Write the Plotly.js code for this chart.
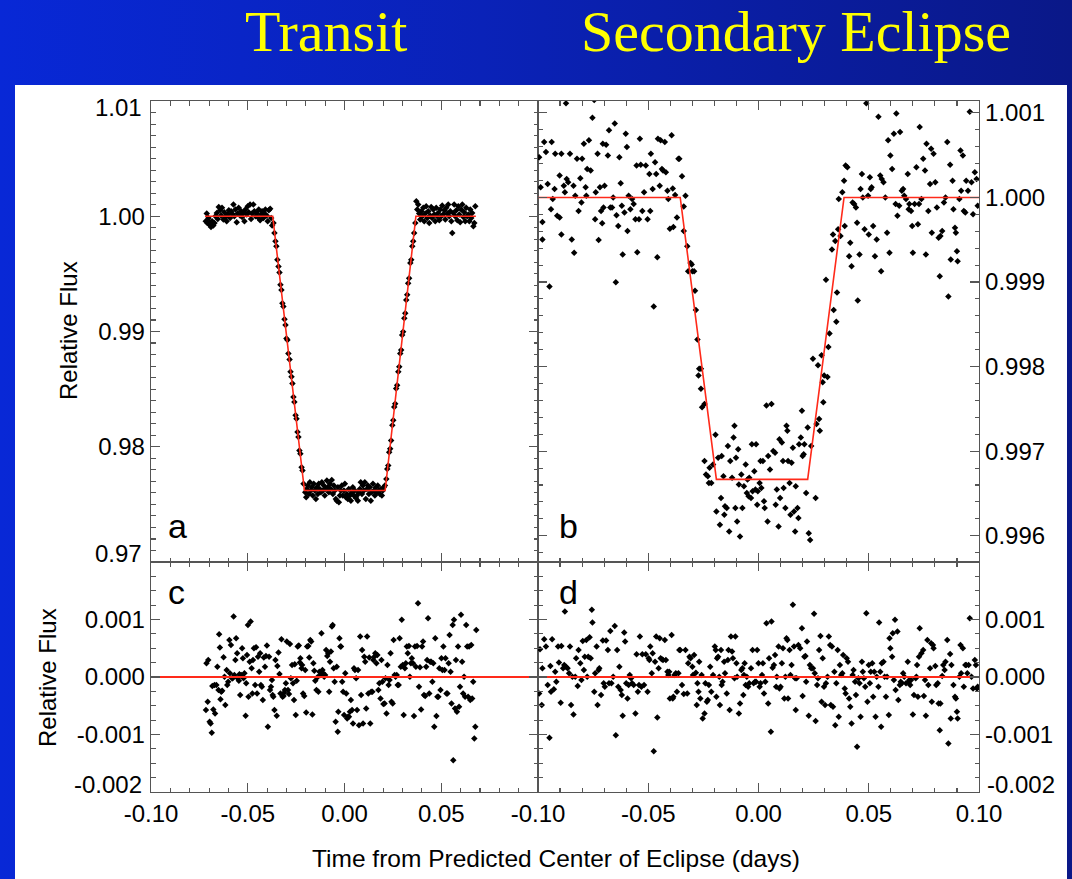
<!DOCTYPE html>
<html>
<head>
<meta charset="utf-8">
<script src="https://cdn.plot.ly/plotly-3.0.1.min.js"></script>
<style>
html,body{margin:0;padding:0;}
body{width:1072px;height:879px;overflow:hidden;background:linear-gradient(90deg,#0828d6 0%,#0a22b8 45%,#0a1888 100%);}
#chart{width:1072px;height:879px;}
</style>
</head>
<body>
<div id="chart"></div>
<script>
// ---------- Panel a: transit light curve ----------
const transitTime = [
-0.0717,-0.0712,-0.0709,-0.0703,-0.0698,-0.0695,-0.0690,-0.0684,-0.0678,-0.0672,
-0.0667,-0.0660,-0.0655,-0.0650,-0.0643,-0.0638,-0.0633,-0.0626,-0.0621,-0.0616,
-0.0609,-0.0603,-0.0598,-0.0591,-0.0586,-0.0581,-0.0574,-0.0569,-0.0564,-0.0557,
-0.0552,-0.0547,-0.0540,-0.0534,-0.0529,-0.0522,-0.0517,-0.0512,-0.0505,-0.0500,
-0.0495,-0.0488,-0.0483,-0.0478,-0.0471,-0.0466,-0.0460,-0.0453,-0.0448,-0.0443,
-0.0436,-0.0431,-0.0426,-0.0419,-0.0414,-0.0409,-0.0402,-0.0397,-0.0391,-0.0384,
-0.0379,-0.0374,
-0.0367,-0.0362,-0.0357,-0.0352,-0.0347,-0.0341,-0.0336,-0.0331,-0.0326,-0.0321,
-0.0316,-0.0310,-0.0305,-0.0300,-0.0295,-0.0290,-0.0284,-0.0279,-0.0274,-0.0269,
-0.0264,-0.0259,-0.0253,-0.0248,-0.0243,-0.0238,-0.0233,-0.0228,-0.0222,-0.0217,
-0.0212,
-0.0203,-0.0198,-0.0195,-0.0190,-0.0184,-0.0179,-0.0174,-0.0169,-0.0164,-0.0159,
-0.0153,-0.0148,-0.0143,-0.0138,-0.0133,-0.0128,-0.0122,-0.0117,-0.0112,-0.0107,
-0.0102,-0.0097,-0.0091,-0.0086,-0.0081,-0.0076,-0.0071,-0.0066,-0.0060,-0.0055,
-0.0050,-0.0045,-0.0040,-0.0034,-0.0029,-0.0024,-0.0019,-0.0014,-0.0009,-0.0003,
0.0002,0.0007,0.0012,0.0017,0.0022,0.0028,0.0033,0.0038,0.0043,0.0048,
0.0053,0.0059,0.0064,0.0069,0.0074,0.0079,0.0084,0.0090,0.0095,0.0100,
0.0105,0.0110,0.0116,0.0121,0.0126,0.0131,0.0136,0.0141,0.0147,0.0152,
0.0157,0.0162,0.0167,0.0172,0.0178,0.0183,0.0188,0.0193,0.0198,0.0203,
0.0209,
0.0216,0.0221,0.0226,0.0231,0.0236,0.0241,0.0247,0.0252,0.0257,0.0262,
0.0267,0.0272,0.0278,0.0283,0.0288,0.0293,0.0298,0.0303,0.0309,0.0314,
0.0319,0.0324,0.0329,0.0334,0.0340,0.0345,0.0350,0.0355,0.0360,0.0366,
0.0371,0.0376,0.0381,0.0386,0.0391,0.0397,0.0402,0.0407,0.0412,0.0417,
0.0422,0.0428,0.0433,0.0438,0.0443,0.0448,0.0453,0.0459,0.0464,0.0469,
0.0474,0.0479,0.0484,0.0490,0.0495,0.0500,0.0505,0.0510,0.0516,0.0521,
0.0526,0.0531,0.0536,0.0541,0.0547,0.0552,0.0557,0.0562,0.0567,0.0572,
0.0578,0.0583,0.0588,0.0593,0.0598,0.0603,0.0609,0.0614,0.0619,0.0624,
0.0629,0.0634,0.0640,0.0645,0.0650,0.0655,0.0660,0.0666,0.0671,0.0676
];
const transitFlux = [
0.99956,1.00023,0.99942,0.99985,0.99927,0.99948,0.99907,0.99956,0.99919,0.99942,
1.00000,1.00029,0.99977,1.00081,1.00052,1.00006,1.00073,0.99971,1.00035,0.99991,
0.99956,1.00015,1.00052,0.99985,1.00044,1.00023,1.00102,1.00000,1.00058,0.99948,
1.00023,1.00073,1.00006,1.00044,0.99994,1.00029,0.99956,1.00058,1.00015,1.00087,
1.00035,1.00102,0.99977,1.00023,1.00102,1.00044,1.00000,1.00029,0.99991,1.00058,
0.99965,1.00015,1.00044,0.99985,1.00023,1.00058,1.00006,0.99956,1.00052,1.00064,
0.99985,0.99919,
0.99942,0.99855,0.99782,0.99739,0.99623,0.99565,0.99512,0.99405,0.99361,0.99245,
0.99216,0.99106,0.99057,0.98940,0.98926,0.98810,0.98758,0.98650,0.98607,0.98549,
0.98432,0.98389,0.98273,0.98244,0.98128,0.98084,0.97968,0.97939,0.97823,0.97794,
0.97678,
0.97605,0.97561,0.97634,0.97663,0.97590,0.97692,0.97620,0.97649,0.97576,0.97678,
0.97620,0.97547,0.97649,0.97590,0.97678,0.97634,0.97605,0.97692,0.97620,0.97663,
0.97576,0.97634,0.97707,0.97649,0.97605,0.97678,0.97634,0.97712,0.97590,0.97663,
0.97620,0.97547,0.97532,0.97649,0.97518,0.97576,0.97620,0.97663,0.97576,0.97620,
0.97678,0.97561,0.97590,0.97547,0.97634,0.97576,0.97532,0.97605,0.97649,0.97576,
0.97620,0.97556,0.97576,0.97532,0.97605,0.97634,0.97692,0.97590,0.97663,0.97620,
0.97692,0.97547,0.97634,0.97663,0.97590,0.97649,0.97532,0.97605,0.97678,0.97620,
0.97576,0.97649,0.97605,0.97663,0.97620,0.97590,0.97634,0.97576,0.97620,0.97649,
0.97663,
0.97721,0.97808,0.97837,0.97953,0.97982,0.98055,0.98186,0.98229,0.98345,0.98374,
0.98505,0.98534,0.98650,0.98694,0.98810,0.98839,0.98969,0.98998,0.99115,0.99158,
0.99274,0.99318,0.99419,0.99463,0.99594,0.99623,0.99739,0.99782,0.99855,0.99942,
1.00131,1.00058,1.00102,1.00023,0.99971,1.00044,1.00000,1.00073,0.99956,1.00023,
1.00087,0.99985,1.00044,0.99942,1.00006,1.00081,0.99985,1.00058,1.00015,0.99956,
1.00073,1.00000,1.00029,0.99965,1.00058,1.00000,1.00093,1.00015,1.00052,0.99971,
1.00073,1.00023,1.00102,1.00000,1.00044,0.99956,0.99855,1.00029,1.00102,1.00000,
1.00052,0.99965,1.00087,1.00015,0.99948,1.00058,1.00102,0.99994,1.00035,0.99956,
1.00073,1.00000,1.00015,0.99956,1.00058,0.99985,1.00029,0.99913,0.99942,1.00087
];
const transitModelTime = [-0.0721,-0.0371,-0.0207,0.0210,0.0369,0.0679];
const transitModelFlux = [1.0000,1.0000,0.9762,0.9762,1.0000,1.0000];

// ---------- Panel b: secondary eclipse light curve ----------
const eclipseTime = [
-0.0995,-0.0988,-0.0980,-0.0980,-0.0972,-0.0964,-0.0956,-0.0948,-0.0941,-0.0938,
-0.0933,-0.0925,-0.0922,-0.0913,-0.0902,-0.0902,-0.0894,-0.0894,-0.0883,-0.0878,
-0.0873,-0.0870,-0.0863,-0.0855,-0.0847,-0.0839,-0.0836,-0.0831,-0.0823,-0.0816,
-0.0808,-0.0803,-0.0800,-0.0792,-0.0784,-0.0781,-0.0777,-0.0769,-0.0761,-0.0753,
-0.0745,-0.0741,-0.0738,-0.0730,-0.0725,-0.0719,-0.0714,-0.0709,-0.0706,-0.0703,
-0.0698,-0.0691,-0.0683,-0.0678,-0.0672,-0.0664,-0.0659,-0.0652,-0.0647,-0.0644,
-0.0636,-0.0631,-0.0625,-0.0620,-0.0616,-0.0608,-0.0602,-0.0597,-0.0594,-0.0589,
-0.0581,-0.0573,-0.0566,-0.0558,-0.0553,-0.0550,-0.0542,-0.0538,-0.0534,-0.0527,
-0.0519,-0.0511,-0.0503,-0.0495,-0.0491,-0.0488,-0.0480,-0.0475,-0.0469,-0.0464,
-0.0459,-0.0456,-0.0448,-0.0444,-0.0438,-0.0433,-0.0425,-0.0420,-0.0413,-0.0409,
-0.0402,-0.0394,-0.0389,-0.0386,-0.0378,-0.0370,-0.0363,-0.0359,-0.0347,-0.0339,
-0.0331,-0.0339,-0.0323,-0.0319,-0.0308,-0.0303,-0.0300,-0.0292,-0.0288,-0.0284,
-0.0277,-0.0272,-0.0269,-0.0261,-0.0261,-0.0256,-0.0245,-0.0245,-0.0238,-0.0230,
-0.0225,-0.0222,-0.0214,-0.0206,-0.0195,-0.0191,-0.0183,-0.0175,-0.0170,-0.0167,
-0.0159,-0.0155,-0.0152,-0.0144,-0.0139,-0.0133,-0.0128,-0.0120,-0.0113,-0.0109,
-0.0105,-0.0102,-0.0097,-0.0092,-0.0089,-0.0084,-0.0078,-0.0073,-0.0066,-0.0058,
-0.0053,-0.0050,-0.0045,-0.0042,-0.0034,-0.0030,-0.0027,-0.0019,-0.0014,-0.0011,
-0.0006,-0.0003,0.0005,0.0009,0.0013,0.0020,0.0025,0.0028,0.0036,0.0041,
0.0044,0.0052,0.0059,0.0067,0.0075,0.0078,0.0083,0.0091,0.0095,0.0098,
0.0106,0.0111,0.0114,0.0122,0.0127,0.0131,0.0134,0.0141,0.0145,0.0150,
0.0156,0.0161,0.0166,0.0169,0.0177,0.0181,0.0184,0.0192,0.0197,0.0200,
0.0205,0.0208,0.0216,0.0223,0.0228,0.0234,0.0239,0.0247,0.0259,0.0263,
0.0270,0.0275,0.0278,0.0286,0.0291,0.0294,0.0298,0.0306,0.0313,0.0317,
0.0322,0.0333,0.0338,0.0341,0.0348,0.0353,0.0356,0.0361,0.0364,0.0372,
0.0380,0.0388,0.0391,0.0395,0.0403,0.0411,0.0416,0.0422,0.0427,0.0434,
0.0442,0.0447,0.0450,0.0458,0.0463,0.0469,0.0473,0.0481,0.0489,0.0497,
0.0500,0.0505,0.0509,0.0513,0.0520,0.0528,0.0536,0.0544,0.0552,0.0556,
0.0559,0.0567,0.0575,0.0583,0.0588,0.0594,0.0598,0.0606,0.0614,0.0622,
0.0625,0.0630,0.0638,0.0642,0.0650,0.0656,0.0661,0.0669,0.0677,0.0681,
0.0684,0.0692,0.0697,0.0700,0.0708,0.0716,0.0723,0.0728,0.0731,0.0739,
0.0747,0.0755,0.0759,0.0762,0.0770,0.0778,0.0783,0.0786,0.0794,0.0802,
0.0809,0.0817,0.0822,0.0825,0.0833,0.0841,0.0848,0.0856,0.0861,0.0869,
0.0872,0.0880,0.0884,0.0891,0.0895,0.0900,0.0903,0.0911,0.0916,0.0919,
0.0927,0.0931,0.0938,0.0942,0.0950,0.0958,0.0966,0.0973,0.0981,0.0989,
0.0994
];
const eclipseFlux = [
1.000476,1.000119,0.999710,0.999504,1.000655,1.000536,1.000159,0.998948,0.999861,1.000655,
0.999980,1.000099,1.000516,0.999782,1.000258,0.999762,1.000516,0.999563,1.000139,1.000060,
1.001112,1.000218,1.000179,1.000516,0.999504,1.000139,0.999345,1.000020,1.000457,0.999841,
1.000226,0.999940,1.000457,1.000635,1.000119,1.000020,1.000337,1.000675,1.000318,1.000941,
1.001151,0.999742,1.000060,1.000516,0.999496,1.000119,0.999841,0.999694,1.000635,0.999881,
1.000139,1.000623,1.000496,1.000794,0.999881,0.999881,1.000000,1.000873,0.998996,0.999790,
0.999663,1.000476,1.000167,0.999901,0.999325,0.999821,1.000754,1.000595,0.999603,1.000020,
0.999861,0.999980,0.999921,0.999742,1.000377,0.999353,0.999742,1.000695,1.000385,0.999841,
1.000060,1.000377,0.999742,1.000278,0.999841,1.000516,1.000099,0.998710,1.000417,1.000278,
0.999293,1.000695,1.000139,1.000675,1.000337,1.000318,1.000655,1.000298,1.000079,0.999980,
0.999631,1.000734,1.000107,0.999651,1.000028,0.999762,1.000457,1.000457,1.000250,0.999893,
1.000020,0.999603,0.999424,0.999127,0.999226,0.999206,0.999127,0.999127,0.998896,0.998670,
0.998321,0.997896,0.997975,0.997975,0.997737,0.997519,0.997558,0.996884,0.996725,0.996705,
0.996625,0.996804,0.996625,0.996844,0.997193,0.996288,0.996923,0.996129,0.996447,0.996943,
0.996705,0.996248,0.996348,0.996328,0.997062,0.996050,0.996884,0.996685,0.997161,0.997300,
0.996328,0.996923,0.996169,0.997022,0.996606,0.995990,0.996725,0.996328,0.996586,0.996844,
0.996506,0.996665,0.996467,0.996685,0.996447,0.997082,0.996526,0.996764,0.996546,0.997082,
0.996367,0.996526,0.996625,0.996884,0.996566,0.996884,0.996407,0.996328,0.997539,0.996169,
0.996943,0.996784,0.997558,0.997003,0.996983,0.996367,0.996546,0.996109,0.997142,0.996447,
0.997102,0.996884,0.996566,0.996328,0.997300,0.997241,0.996884,0.996625,0.996248,0.996864,
0.997042,0.996288,0.996050,0.996586,0.996328,0.996209,0.997082,0.997161,0.997479,0.996943,
0.996963,0.997082,0.996506,0.997280,0.996030,0.995951,0.997062,0.998094,0.996447,0.997320,
0.998015,0.997380,0.997241,0.998134,0.997816,0.997578,0.997896,0.999027,0.997876,0.998233,
0.998392,0.999385,0.999563,0.998670,0.999484,0.998531,0.998876,0.999623,0.999980,0.999543,
1.000060,1.000198,0.999663,1.000377,1.000357,0.999305,0.999464,0.999186,0.999940,0.999921,
0.999881,0.999702,0.998781,0.999325,1.000099,1.000278,1.000000,0.999623,1.001112,1.000020,
0.999563,1.000238,1.000099,1.000119,0.999663,0.999305,0.999504,1.000953,1.000258,0.999127,
1.000218,1.000179,1.000000,0.999583,1.000675,0.999345,1.000496,1.000337,1.000754,0.999921,
1.000993,0.999782,0.999901,1.000774,1.000079,1.000099,1.000020,0.999980,1.000278,0.999861,
0.999921,0.999841,0.999663,0.999345,0.999921,1.000357,0.999682,0.999921,1.000834,0.999980,
1.000457,1.000318,0.999325,1.000635,0.999841,1.000159,1.000576,0.999583,1.000516,1.000179,
0.999881,0.999524,0.999067,0.999543,0.999603,0.999940,1.000000,1.000655,0.998829,1.000385,
0.999266,1.000198,0.999861,0.999643,0.999583,0.999365,0.999246,0.999980,1.000556,1.000079,
1.000496,0.999841,0.999821,1.000198,1.000079,1.001012,1.000179,0.999802,1.000298,1.000218,
0.999901
];
const eclipseModelTime = [-0.1000,-0.0355,-0.0191,0.0223,0.0388,0.1000];
const eclipseModelFlux = [1.000000,1.000000,0.996667,0.996667,1.000000,1.000000];

// ---------- Panel c: transit residuals ----------
const transitResidTime = [
-0.0716,-0.0713,-0.0707,-0.0704,-0.0697,-0.0692,-0.0686,-0.0683,-0.0678,-0.0672,
-0.0669,-0.0662,-0.0657,-0.0651,-0.0648,-0.0644,-0.0641,-0.0637,-0.0632,-0.0625,
-0.0620,-0.0616,-0.0609,-0.0606,-0.0601,-0.0595,-0.0592,-0.0587,-0.0581,-0.0578,
-0.0573,-0.0569,-0.0564,-0.0560,-0.0555,-0.0552,-0.0546,-0.0543,-0.0539,-0.0534,
-0.0529,-0.0525,-0.0522,-0.0517,-0.0511,-0.0508,-0.0504,-0.0499,-0.0496,-0.0490,
-0.0485,-0.0480,-0.0476,-0.0473,-0.0468,-0.0462,-0.0457,-0.0452,-0.0447,-0.0441,
-0.0436,-0.0432,-0.0427,-0.0422,-0.0417,-0.0411,-0.0406,-0.0401,-0.0396,-0.0390,
-0.0385,-0.0380,-0.0375,-0.0371,-0.0368,-0.0362,-0.0357,-0.0350,-0.0347,-0.0341,
-0.0336,-0.0331,-0.0326,-0.0320,-0.0315,-0.0312,-0.0308,-0.0303,-0.0298,-0.0292,
-0.0287,-0.0282,-0.0277,-0.0271,-0.0266,-0.0261,-0.0257,-0.0252,-0.0247,-0.0242,
-0.0236,-0.0231,-0.0228,-0.0222,-0.0219,-0.0214,-0.0208,-0.0203,-0.0198,-0.0193,
-0.0187,-0.0182,-0.0177,-0.0172,-0.0166,-0.0161,-0.0156,-0.0151,-0.0145,-0.0140,
-0.0135,-0.0130,-0.0124,-0.0119,-0.0114,-0.0110,-0.0105,-0.0100,-0.0095,-0.0089,
-0.0084,-0.0079,-0.0075,-0.0070,-0.0065,-0.0061,-0.0056,-0.0051,-0.0046,-0.0040,
-0.0035,-0.0032,-0.0026,-0.0021,-0.0018,-0.0012,-0.0007,-0.0002,0.0004,0.0009,
0.0014,0.0018,0.0023,0.0028,0.0033,0.0039,0.0044,0.0049,0.0054,0.0060,
0.0065,0.0070,0.0075,0.0081,0.0086,0.0091,0.0096,0.0102,0.0107,0.0112,
0.0117,0.0123,0.0128,0.0133,0.0138,0.0144,0.0149,0.0154,0.0159,0.0165,
0.0170,0.0175,0.0180,0.0186,0.0191,0.0196,0.0201,0.0207,0.0212,0.0217,
0.0222,0.0228,0.0233,0.0238,0.0243,0.0249,0.0254,0.0259,0.0264,0.0270,
0.0275,0.0280,0.0285,0.0291,0.0296,0.0301,0.0306,0.0312,0.0317,0.0322,
0.0327,0.0333,0.0338,0.0343,0.0348,0.0354,0.0359,0.0364,0.0369,0.0375,
0.0380,0.0385,0.0390,0.0396,0.0401,0.0406,0.0411,0.0417,0.0422,0.0427,
0.0432,0.0438,0.0443,0.0448,0.0454,0.0459,0.0464,0.0469,0.0475,0.0480,
0.0485,0.0490,0.0496,0.0501,0.0506,0.0511,0.0517,0.0522,0.0527,0.0532,
0.0538,0.0543,0.0548,0.0553,0.0559,0.0562,0.0566,0.0571,0.0576,0.0581,
0.0587,0.0592,0.0597,0.0602,0.0608,0.0613,0.0618,0.0623,0.0629,0.0634,
0.0639,0.0644,0.0650,0.0655,0.0660,0.0665,0.0671,0.0676,0.0681
];
const transitResid = [
-0.000575,0.000238,-0.000430,0.000296,-0.000779,-0.000808,-0.000970,-0.000157,-0.000564,-0.000139,
-0.000633,-0.000139,0.000180,-0.000227,0.000744,0.000511,-0.000389,-0.000256,-0.000238,0.000343,
0.000006,-0.000488,0.000122,-0.000139,-0.000081,0.000645,0.000064,0.000558,-0.000023,-0.000023,
0.001052,0.000035,0.000296,0.000674,0.000413,-0.000023,-0.000064,0.000046,-0.000314,0.000035,
0.000500,0.000325,-0.000023,0.000064,-0.000674,-0.000110,0.000383,0.000906,-0.000343,0.000267,
0.000964,0.000151,-0.000285,0.000296,0.000500,-0.000139,0.000517,-0.000285,0.000354,0.000093,
0.000413,-0.000139,-0.000168,-0.000401,0.000337,0.000180,0.000366,0.000546,-0.000866,0.000354,
-0.000227,-0.000168,-0.000052,-0.000314,-0.000343,-0.000575,0.000296,-0.000674,0.000192,0.000424,
0.000052,-0.000285,0.000657,-0.000343,-0.000331,-0.000273,-0.000227,-0.000110,0.000616,-0.000227,
-0.000296,0.000575,-0.000023,0.000209,-0.000110,-0.000401,0.000221,-0.000662,-0.000064,0.000529,
0.000546,0.000250,0.000325,0.000151,0.000209,-0.000285,-0.000331,0.000122,-0.000616,0.000529,
0.000540,0.000337,0.000645,0.000616,-0.000651,0.000238,0.000110,-0.000064,-0.000227,-0.000006,
-0.000256,0.000093,0.000035,0.000761,0.000122,0.000064,0.000006,0.000035,0.000471,0.000366,
0.000413,-0.000256,0.000267,0.000442,0.000877,0.000906,0.000151,-0.000081,-0.000779,0.000180,
-0.000953,-0.000604,0.000674,0.000529,0.000529,-0.000081,-0.000256,-0.000662,0.000064,-0.000285,
-0.000720,-0.000691,-0.000691,-0.000604,-0.000401,-0.000575,-0.000808,0.000151,0.000122,-0.000023,
-0.000575,0.000122,-0.000837,0.000703,-0.000314,0.000471,-0.000808,0.000354,0.000267,-0.000546,
0.000703,-0.000285,0.000337,-0.000808,-0.000256,-0.000256,0.000296,0.000354,0.000413,0.000238,
0.000383,-0.000227,-0.000110,-0.000372,0.000296,-0.000081,-0.000471,-0.000459,-0.000023,-0.000633,
0.000209,-0.000139,-0.000052,0.000413,-0.000430,-0.000459,0.000645,0.000035,0.000006,0.000035,
-0.000139,-0.000139,0.000674,0.000180,0.000994,0.000209,-0.000662,0.000151,0.000238,0.000529,
0.000413,0.000540,0.000006,0.000238,0.000325,0.000238,-0.000680,0.000529,0.000180,0.000540,
0.001284,-0.000168,0.000168,-0.000564,0.000529,0.000616,-0.000314,-0.000331,0.000180,0.000296,
0.001023,-0.000285,0.000267,0.000267,-0.000081,0.000238,-0.000866,0.000674,-0.000680,-0.000343,
-0.000343,0.000151,-0.000227,0.000325,0.000122,0.000529,0.000122,0.000325,-0.000285,-0.000285,
0.000238,0.000732,0.000093,-0.000459,0.000906,-0.001447,0.000994,-0.000546,0.000296,-0.000604,
0.000529,-0.000517,-0.000168,0.001081,0.000267,-0.000285,0.000006,-0.000343,0.000906,0.000529,
-0.000343,0.000529,-0.000401,0.000558,-0.000372,-0.000081,-0.001069,-0.000866,0.000819
];

// ---------- Panel d: eclipse residuals ----------
const eclipseResidTime = [
-0.0995,-0.0991,-0.0983,-0.0980,-0.0972,-0.0964,-0.0956,-0.0948,-0.0944,-0.0941,
-0.0936,-0.0928,-0.0922,-0.0917,-0.0909,-0.0905,-0.0897,-0.0894,-0.0886,-0.0881,
-0.0878,-0.0873,-0.0866,-0.0859,-0.0855,-0.0850,-0.0844,-0.0839,-0.0831,-0.0827,
-0.0820,-0.0816,-0.0808,-0.0803,-0.0797,-0.0792,-0.0788,-0.0781,-0.0777,-0.0772,
-0.0766,-0.0761,-0.0756,-0.0753,-0.0745,-0.0741,-0.0734,-0.0730,-0.0725,-0.0722,
-0.0714,-0.0706,-0.0702,-0.0697,-0.0691,-0.0683,-0.0678,-0.0672,-0.0667,-0.0659,
-0.0652,-0.0647,-0.0641,-0.0636,-0.0631,-0.0625,-0.0620,-0.0616,-0.0609,-0.0605,
-0.0600,-0.0594,-0.0589,-0.0584,-0.0578,-0.0573,-0.0566,-0.0558,-0.0553,-0.0547,
-0.0542,-0.0538,-0.0531,-0.0527,-0.0519,-0.0511,-0.0503,-0.0498,-0.0495,-0.0491,
-0.0484,-0.0480,-0.0475,-0.0469,-0.0464,-0.0459,-0.0453,-0.0448,-0.0444,-0.0438,
-0.0433,-0.0425,-0.0420,-0.0413,-0.0409,-0.0405,-0.0402,-0.0394,-0.0389,-0.0386,
-0.0381,-0.0375,-0.0370,-0.0363,-0.0359,-0.0355,-0.0347,-0.0339,-0.0331,-0.0323,
-0.0319,-0.0313,-0.0308,-0.0300,-0.0297,-0.0292,-0.0284,-0.0280,-0.0277,-0.0272,
-0.0269,-0.0264,-0.0258,-0.0253,-0.0245,-0.0241,-0.0234,-0.0230,-0.0225,-0.0219,
-0.0214,-0.0206,-0.0198,-0.0194,-0.0191,-0.0188,-0.0183,-0.0178,-0.0175,-0.0170,
-0.0167,-0.0163,-0.0156,-0.0152,-0.0144,-0.0139,-0.0136,-0.0131,-0.0125,-0.0120,
-0.0116,-0.0109,-0.0105,-0.0100,-0.0097,-0.0089,-0.0084,-0.0078,-0.0073,-0.0069,
-0.0066,-0.0063,-0.0058,-0.0053,-0.0047,-0.0042,-0.0034,-0.0027,-0.0022,-0.0016,
-0.0011,-0.0006,0.0000,0.0005,0.0009,0.0016,0.0020,0.0025,0.0031,0.0036,
0.0044,0.0048,0.0056,0.0059,0.0064,0.0070,0.0075,0.0080,0.0083,0.0091,
0.0095,0.0100,0.0106,0.0111,0.0117,0.0122,0.0127,0.0131,0.0134,0.0141,
0.0145,0.0150,0.0156,0.0161,0.0166,0.0169,0.0173,0.0181,0.0189,0.0197,
0.0200,0.0208,0.0213,0.0216,0.0220,0.0228,0.0233,0.0239,0.0247,0.0252,
0.0255,0.0259,0.0266,0.0270,0.0275,0.0281,0.0286,0.0291,0.0297,0.0302,
0.0306,0.0313,0.0319,0.0325,0.0328,0.0333,0.0338,0.0344,0.0348,0.0353,
0.0359,0.0364,0.0369,0.0375,0.0380,0.0384,0.0391,0.0395,0.0400,0.0406,
0.0411,0.0416,0.0422,0.0427,0.0431,0.0438,0.0442,0.0447,0.0453,0.0458,
0.0463,0.0469,0.0473,0.0478,0.0484,0.0489,0.0494,0.0500,0.0505,0.0509,
0.0516,0.0520,0.0525,0.0531,0.0536,0.0544,0.0547,0.0552,0.0556,0.0559,
0.0567,0.0572,0.0578,0.0583,0.0591,0.0594,0.0598,0.0606,0.0609,0.0614,
0.0619,0.0622,0.0630,0.0634,0.0641,0.0645,0.0650,0.0656,0.0661,0.0669,
0.0677,0.0681,0.0684,0.0688,0.0692,0.0700,0.0705,0.0713,0.0716,0.0719,
0.0723,0.0728,0.0731,0.0739,0.0747,0.0750,0.0755,0.0759,0.0766,0.0770,
0.0778,0.0783,0.0786,0.0791,0.0794,0.0802,0.0806,0.0813,0.0817,0.0822,
0.0825,0.0833,0.0838,0.0844,0.0848,0.0856,0.0861,0.0869,0.0872,0.0875,
0.0884,0.0891,0.0895,0.0900,0.0903,0.0911,0.0916,0.0919,0.0927,0.0931,
0.0938,0.0942,0.0947,0.0953,0.0958,0.0966,0.0973,0.0981,0.0986,0.0991,
0.0994
];
const eclipseResid = [
-0.000285,0.000482,-0.000488,0.000151,0.000657,0.000529,-0.000139,-0.001057,0.000192,-0.000256,
0.000657,-0.000215,0.000093,-0.000081,0.000529,0.000250,-0.000447,0.000540,0.000151,0.000209,
0.001139,0.000180,0.000151,0.000064,0.000529,-0.000488,0.000006,-0.000651,0.000006,0.000325,
-0.000157,0.000471,0.000238,-0.000052,0.000627,0.000122,0.000354,0.000645,0.000006,0.000354,
0.000691,0.000325,0.001168,0.000947,-0.000256,0.000064,0.000529,-0.000488,0.000122,0.000151,
-0.000314,0.000633,-0.000110,-0.000168,0.000633,0.000471,-0.000110,0.000802,-0.000110,0.000006,
0.000889,-0.001011,0.000471,-0.000168,0.000180,-0.000227,-0.000314,-0.000674,0.000773,0.000616,
-0.000110,-0.000372,-0.000139,0.000035,-0.000023,-0.000110,-0.000139,-0.000633,0.000395,-0.000256,
-0.000139,0.000703,-0.000168,0.000395,-0.000139,0.000395,-0.000256,0.000325,0.000296,0.000529,
0.000064,0.000413,-0.001290,0.000267,0.000703,-0.000703,0.000151,0.000674,0.000325,0.000308,
0.000296,0.000645,0.000296,0.000093,0.000035,0.000093,-0.000372,0.000732,-0.000372,-0.000343,
0.000035,0.000064,-0.000256,0.000064,0.000471,0.000471,-0.000139,-0.000296,0.000471,-0.000285,
0.000238,0.000354,0.000325,0.000180,0.000035,0.000383,0.000076,-0.000488,-0.000110,-0.000256,
0.000267,-0.000372,0.000035,-0.000720,-0.000633,-0.000110,-0.000430,-0.000401,-0.000139,0.000180,
-0.000256,0.000035,0.000529,0.000471,-0.000343,0.000325,0.000354,0.000006,-0.000488,0.000471,
-0.000139,-0.000081,0.000267,0.000064,-0.000285,0.000296,0.000471,-0.000575,0.000703,0.000442,
0.000325,-0.000023,0.000703,0.000238,0.000006,-0.000633,-0.000459,0.000122,0.000151,-0.000314,
0.000035,0.000238,-0.000139,0.000006,-0.000168,-0.000110,0.000151,0.000471,-0.000110,-0.000081,
-0.000081,0.000471,0.000238,-0.000168,-0.000110,0.000035,0.000238,-0.000285,-0.000081,0.000935,
-0.000459,0.000325,-0.000953,0.000964,0.000163,0.000209,0.000383,-0.000168,0.000006,0.000529,
-0.000198,-0.000168,0.000238,0.000500,-0.000372,0.000006,0.000674,0.000645,-0.000372,0.000471,
0.000035,0.000209,0.001255,0.000529,-0.000023,-0.000575,-0.000023,0.000558,0.000500,0.000848,
-0.000331,0.000354,0.000366,-0.000081,0.000616,-0.000674,0.000209,0.000151,0.000151,0.001098,
0.000064,-0.000767,-0.000139,-0.000023,0.000471,0.000715,-0.000430,0.000325,-0.000168,-0.000488,
-0.000110,0.000006,0.000703,0.000558,-0.000488,0.000529,-0.000517,0.000093,-0.000837,-0.000110,
0.000471,-0.000691,0.000209,0.000035,0.000064,0.000383,-0.000198,-0.000285,0.000325,0.000267,
-0.000372,-0.000517,-0.000808,0.000035,0.000122,-0.000081,-0.000314,-0.001214,-0.000023,-0.000110,
-0.000691,0.000267,0.000093,-0.000023,-0.000168,0.001110,-0.000430,0.000209,-0.000110,0.000093,
0.000238,-0.000343,0.000093,-0.000691,0.000006,-0.000168,0.000947,0.000093,-0.000866,0.000238,
0.000267,0.000006,-0.000343,0.000006,-0.000662,0.000674,0.000500,0.000354,0.000761,-0.000052,
0.000994,-0.000227,0.000790,-0.000401,-0.000139,-0.000081,-0.000110,0.000064,0.000006,-0.000110,
0.000267,-0.000081,-0.000052,-0.000139,-0.000052,-0.000651,-0.000314,-0.000023,0.000006,0.000209,
-0.000343,0.000354,0.000848,0.000413,0.000471,-0.000331,-0.000052,-0.000674,0.000645,-0.000139,
0.000151,0.000587,-0.000430,0.000558,0.000500,0.000192,-0.000139,-0.000110,-0.000459,-0.000924,
-0.000459,0.000017,0.000209,0.000122,0.000267,0.000645,-0.001156,0.000401,-0.000720,0.000209,
-0.000139,-0.000343,-0.000372,-0.000604,-0.000720,0.000006,0.000558,0.000064,0.000500,-0.000168,
0.000209,0.000209,0.000064,0.000209,0.001023,0.000006,-0.000198,0.000296,0.000209,-0.000198,
-0.000168
];
const residZeroTime = [-0.1, 0.1];
const residZero = [0, 0];

// ---------- tick labels ----------
const timeTicks = [-0.10,-0.05,0.00,0.05,0.10];
const timeLabelsLeft = ['-0.10','-0.05','0.00','0.05',''];
const timeLabelsRight = ['-0.10','-0.05','0.00','0.05','0.10'];
const transitFluxTicks = [0.97,0.98,0.99,1.00,1.01];
const transitFluxLabels = ['','0.98','0.99','1.00',''];
const eclipseFluxTicks = [0.996,0.997,0.998,0.999,1.000,1.001];
const eclipseFluxLabels = ['0.996','0.997','0.998','0.999','1.000','1.001'];
const residTicks = [-0.002,-0.001,0.000,0.001,0.002];
const residLabels = ['','-0.001','0.000','0.001',''];
// end-of-axis labels, drawn nudged inward like the original figure
const edgeLabels = ['1.01','0.97','-0.002','-0.002'];

// ---------- styling ----------
const FONT = 'Liberation Sans, Arial, Helvetica, sans-serif';
const AXC = '#555555';
const RED = '#ff2a1a';
const W = 1072, H = 879;
const px = v => v / W;
const py = v => 1 - v / H;

function ax(extra) {
  return Object.assign({
    showline: true, linecolor: AXC, linewidth: 1.3, mirror: 'allticks',
    ticks: 'inside', ticklen: 9, tickwidth: 1.2, tickcolor: AXC,
    showgrid: false, zeroline: false, tickmode: 'array',
    tickfont: {family: FONT, size: 24, color: '#000'},
    fixedrange: true
  }, extra);
}
function minor(tick0, dtick) {
  return {ticks: 'inside', ticklen: 4.5, tickwidth: 1.1, tickcolor: AXC, showgrid: false, tickmode: 'linear', tick0: tick0, dtick: dtick};
}

const xL = [px(151), px(538)];
const xR = [px(538), px(979)];
const yTop = [py(562), py(101)];
const yBot = [py(792), py(562)];

const marker = {symbol: 'diamond', size: 5, color: '#000', line: {width: 0}};

const traces = [
  {x: transitTime, y: transitFlux, xaxis: 'x', yaxis: 'y', mode: 'markers', type: 'scatter', marker: marker},
  {x: transitModelTime, y: transitModelFlux, xaxis: 'x', yaxis: 'y', mode: 'lines', type: 'scatter', line: {color: RED, width: 1.6}},
  {x: eclipseTime, y: eclipseFlux, xaxis: 'x2', yaxis: 'y2', mode: 'markers', type: 'scatter', marker: marker},
  {x: eclipseModelTime, y: eclipseModelFlux, xaxis: 'x2', yaxis: 'y2', mode: 'lines', type: 'scatter', line: {color: RED, width: 1.6}},
  {x: transitResidTime, y: transitResid, xaxis: 'x3', yaxis: 'y3', mode: 'markers', type: 'scatter', marker: marker},
  {x: residZeroTime, y: residZero, xaxis: 'x3', yaxis: 'y3', mode: 'lines', type: 'scatter', line: {color: RED, width: 1.8}},
  {x: eclipseResidTime, y: eclipseResid, xaxis: 'x4', yaxis: 'y4', mode: 'markers', type: 'scatter', marker: marker},
  {x: residZeroTime, y: residZero, xaxis: 'x4', yaxis: 'y4', mode: 'lines', type: 'scatter', line: {color: RED, width: 1.8}}
];

const tickFont = {family: FONT, size: 24, color: '#000'};
const layout = {
  width: W, height: H,
  margin: {l: 0, r: 0, t: 0, b: 0},
  paper_bgcolor: 'rgba(0,0,0,0)',
  plot_bgcolor: '#ffffff',
  showlegend: false,
  xaxis: ax({domain: xL, anchor: 'y', range: [-0.1, 0.1], tickvals: timeTicks, ticktext: timeLabelsLeft, showticklabels: false, minor: minor(0, 0.01)}),
  yaxis: ax({domain: yTop, anchor: 'x', range: [0.97, 1.01], tickvals: transitFluxTicks, ticktext: transitFluxLabels, minor: minor(0.97, 0.001)}),
  xaxis2: ax({domain: xR, anchor: 'y2', range: [-0.1, 0.1], tickvals: timeTicks, ticktext: timeLabelsRight, showticklabels: false, minor: minor(0, 0.01)}),
  yaxis2: ax({domain: yTop, anchor: 'x2', side: 'right', range: [0.99569, 1.00114], tickvals: eclipseFluxTicks, ticktext: eclipseFluxLabels, minor: minor(0.996, 0.0002)}),
  xaxis3: ax({domain: xL, anchor: 'y3', range: [-0.1, 0.1], tickvals: timeTicks, ticktext: timeLabelsLeft, minor: minor(0, 0.01)}),
  yaxis3: ax({domain: yBot, anchor: 'x3', range: [-0.002, 0.002], tickvals: residTicks, ticktext: residLabels, minor: minor(0, 0.00025)}),
  xaxis4: ax({domain: xR, anchor: 'y4', range: [-0.1, 0.1], tickvals: timeTicks, ticktext: timeLabelsRight, minor: minor(0, 0.01)}),
  yaxis4: ax({domain: yBot, anchor: 'x4', side: 'right', range: [-0.002, 0.002], tickvals: residTicks, ticktext: residLabels, minor: minor(0, 0.00025)}),
  shapes: [
    {type: 'rect', xref: 'paper', yref: 'paper', x0: px(15), x1: px(1067), y0: 0, y1: py(85), fillcolor: '#ffffff', line: {width: 0}, layer: 'below'}
  ],
  annotations: [
    {text: 'Transit', xref: 'paper', yref: 'paper', x: px(326), y: py(32), xanchor: 'center', yanchor: 'middle', showarrow: false, font: {family: 'Liberation Serif, Times New Roman, serif', size: 58, color: '#ffff00'}},
    {text: 'Secondary Eclipse', xref: 'paper', yref: 'paper', x: px(796), y: py(32), xanchor: 'center', yanchor: 'middle', showarrow: false, font: {family: 'Liberation Serif, Times New Roman, serif', size: 58, color: '#ffff00'}},
    {text: 'a', xref: 'paper', yref: 'paper', x: px(166), y: py(526), xanchor: 'left', yanchor: 'middle', showarrow: false, font: {family: FONT, size: 34, color: '#000'}},
    {text: 'b', xref: 'paper', yref: 'paper', x: px(557), y: py(526), xanchor: 'left', yanchor: 'middle', showarrow: false, font: {family: FONT, size: 34, color: '#000'}},
    {text: 'c', xref: 'paper', yref: 'paper', x: px(166), y: py(592), xanchor: 'left', yanchor: 'middle', showarrow: false, font: {family: FONT, size: 34, color: '#000'}},
    {text: 'd', xref: 'paper', yref: 'paper', x: px(557), y: py(592), xanchor: 'left', yanchor: 'middle', showarrow: false, font: {family: FONT, size: 34, color: '#000'}},
    {text: edgeLabels[0], xref: 'paper', yref: 'paper', x: px(144), y: py(107), xanchor: 'right', yanchor: 'middle', showarrow: false, font: tickFont},
    {text: edgeLabels[1], xref: 'paper', yref: 'paper', x: px(144), y: py(553), xanchor: 'right', yanchor: 'middle', showarrow: false, font: tickFont},
    {text: edgeLabels[2], xref: 'paper', yref: 'paper', x: px(144), y: py(784), xanchor: 'right', yanchor: 'middle', showarrow: false, font: tickFont},
    {text: edgeLabels[3], xref: 'paper', yref: 'paper', x: px(985), y: py(784), xanchor: 'left', yanchor: 'middle', showarrow: false, font: tickFont},
    {text: 'Relative Flux', xref: 'paper', yref: 'paper', x: px(68), y: py(331), xanchor: 'center', yanchor: 'middle', textangle: -90, showarrow: false, font: {family: FONT, size: 24, color: '#000'}},
    {text: 'Relative Flux', xref: 'paper', yref: 'paper', x: px(47), y: py(678), xanchor: 'center', yanchor: 'middle', textangle: -90, showarrow: false, font: {family: FONT, size: 24, color: '#000'}},
    {text: 'Time from Predicted Center of Eclipse (days)', xref: 'paper', yref: 'paper', x: px(556), y: py(858), xanchor: 'center', yanchor: 'middle', showarrow: false, font: {family: FONT, size: 24.5, color: '#000'}}
  ]
};

Plotly.newPlot('chart', traces, layout, {staticPlot: true, displayModeBar: false});
</script>
</body>
</html>
